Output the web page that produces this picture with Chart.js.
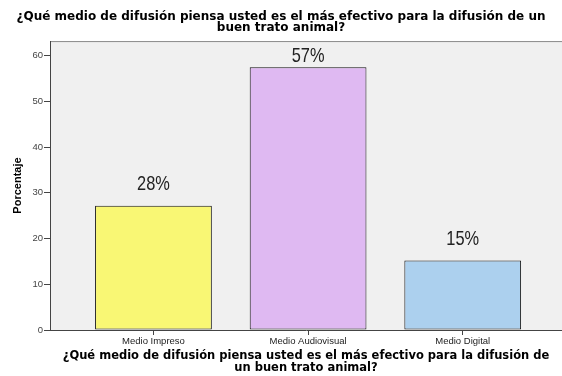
<!DOCTYPE html>
<html>
<head>
<meta charset="utf-8">
<script src="https://cdn.jsdelivr.net/npm/chart.js@4/dist/chart.umd.min.js"></script>
<style>
  html, body { margin: 0; padding: 0; background: #fff; }
  canvas { display: block; }
</style>
</head>
<body>
<canvas id="chart" width="562" height="376"></canvas>
<script>
const categories = ["Medio Impreso", "Medio Audiovisual", "Medio Digital"];
const percentages = [27.2, 57.5, 15.2];
const pctLabels = ["28%", "57%", "15%"];
const barColors = ["#f9f774", "#dfb9f2", "#acd0ee"];
const yTicks = [0, 10, 20, 30, 40, 50, 60];

const titleText = ["¿Qué medio de difusión piensa usted es el más efectivo para la difusión de un", "buen trato animal?"];
const xTitleText = ["¿Qué medio de difusión piensa usted es el más efectivo para la difusión de", "un buen trato animal?"];

// plot background + top border
const plotBg = {
  id: "plotBg",
  beforeDraw(chart) {
    const { ctx, chartArea: a } = chart;
    ctx.save();
    ctx.fillStyle = "#f0f0f0";
    ctx.fillRect(a.left, a.top, a.right - a.left, a.bottom - a.top);
    ctx.strokeStyle = "#8a8a8a";
    ctx.lineWidth = 1;
    ctx.beginPath();
    ctx.moveTo(a.left, a.top + 0.5);
    ctx.lineTo(a.right, a.top + 0.5);
    ctx.stroke();
    ctx.restore();
  }
};

// percentage labels above bars (narrow font look)
const barLabels = {
  id: "barLabels",
  afterDatasetsDraw(chart) {
    const { ctx, chartArea } = chart;
    const meta = chart.getDatasetMeta(0);
    ctx.save();
    ctx.font = "21px 'Liberation Sans'";
    ctx.fillStyle = "#222";
    ctx.textAlign = "center";
    ctx.textBaseline = "middle";
    meta.data.forEach((bar, i) => {
      const y = Math.max(bar.y - 21, chartArea.top + 15);
      ctx.save();
      ctx.translate(bar.x, y);
      ctx.scale(0.78, 1);
      ctx.fillText(pctLabels[i], 0, 0);
      ctx.restore();
    });
    ctx.restore();
  }
};

new Chart(document.getElementById("chart"), {
  type: "bar",
  data: {
    datasets: [{
      data: percentages.map((v, i) => ({ x: i, y: v })),
      backgroundColor: barColors,
      borderColor: "#111",
      borderWidth: 1,
      borderSkipped: false,
      categoryPercentage: 1,
      barPercentage: 0.755,
    }]
  },
  options: {
    responsive: false,
    animation: false,
    layout: { padding: 0 },
    plugins: {
      legend: { display: false },
      tooltip: { enabled: false },
      title: {
        display: true,
        text: titleText,
        color: "#000",
        font: { family: "DejaVu Sans", weight: "bold", size: 12, lineHeight: 0.92 },
        padding: { top: 11, bottom: 8 },
      },
    },
    scales: {
      x: {
        type: "linear",
        offset: false,
        min: -0.669,
        max: 2.642,
        afterBuildTicks(scale) {
          scale.ticks = categories.map((c, i) => ({ value: i }));
        },
        afterFit(scale) { scale.height = 46; },
        ticks: {
          autoSkip: false,
          maxRotation: 0,
          padding: 1,
          color: "#222",
          font: { family: "Liberation Sans", size: 9.5 },
          callback: (v) => categories[v],
        },
        grid: { offset: false, drawOnChartArea: false, tickLength: 5, color: "#444" },
        border: { color: "#444" },
        title: {
          display: true,
          text: xTitleText,
          color: "#000",
          font: { family: "DejaVu Sans", weight: "bold", size: 11.5, lineHeight: 1.0 },
          padding: { top: 0, bottom: 2.5 },
        },
      },
      y: {
        min: 0,
        max: 63.2,
        afterBuildTicks(scale) {
          scale.ticks = yTicks.map(v => ({ value: v }));
        },
        afterFit(scale) { scale.width = 50; },
        ticks: {
          padding: 1,
          color: "#444",
          font: { family: "Liberation Sans", size: 9.5 },
        },
        grid: { drawOnChartArea: false, tickLength: 6, color: "#444" },
        border: { color: "#444" },
        title: {
          display: true,
          text: "Porcentaje",
          color: "#000",
          font: { family: "Liberation Sans", weight: "bold", size: 11, lineHeight: 1.2 },
          padding: { top: 11, bottom: 0 },
        },
      },
    },
  },
  plugins: [plotBg, barLabels],
});
</script>
</body>
</html>
